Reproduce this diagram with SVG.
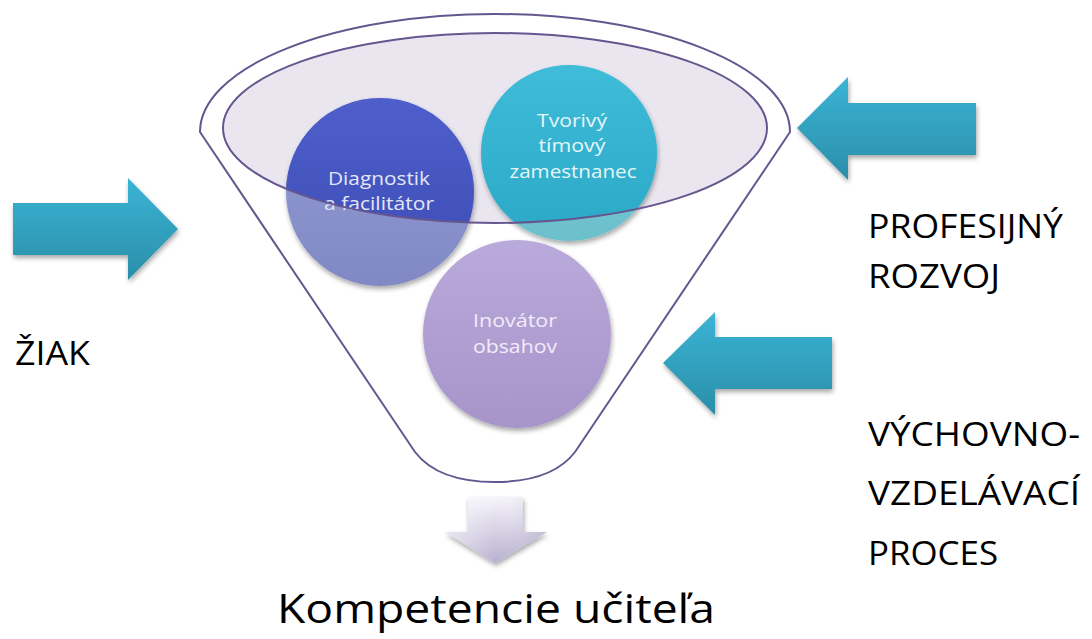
<svg xmlns="http://www.w3.org/2000/svg" width="1092" height="639" viewBox="0 0 1092 639">
<style>
.lbl{font-family:"Open Sans","Liberation Sans",sans-serif;fill:#000;font-size:32px}
.ct{font-family:"Open Sans","Liberation Sans",sans-serif;font-size:18px;text-anchor:middle}
.funnel{fill:#ffffff;stroke:#65568f;stroke-width:2}
.rim{fill:#e9e6f0;stroke:none}
.rimline{fill:none;stroke:#65568f;stroke-width:2}
</style>
<defs>
<linearGradient id="gBlue" x1="0" y1="0" x2="0" y2="1">
<stop offset="0" stop-color="#3bb4d5"/><stop offset="1" stop-color="#2a8ea9"/>
</linearGradient>
<linearGradient id="gDiag" x1="0" y1="0" x2="0" y2="1">
<stop offset="0" stop-color="#4e5ecb"/><stop offset="1" stop-color="#3c4cb4"/>
</linearGradient>
<linearGradient id="gDiagL" x1="0" y1="0" x2="0" y2="1">
<stop offset="0" stop-color="#949dd4"/><stop offset="1" stop-color="#8189c5"/>
</linearGradient>
<linearGradient id="gTvor" x1="0" y1="0" x2="0" y2="1">
<stop offset="0" stop-color="#3fbcd8"/><stop offset="1" stop-color="#2aa8c6"/>
</linearGradient>
<linearGradient id="gTvorL" x1="0" y1="0" x2="0" y2="1">
<stop offset="0" stop-color="#7cccd6"/><stop offset="1" stop-color="#6cc0cc"/>
</linearGradient>
<linearGradient id="gIno" x1="0" y1="0" x2="0" y2="1">
<stop offset="0" stop-color="#baa9db"/><stop offset="1" stop-color="#a794c9"/>
</linearGradient>
<linearGradient id="gDown" x1="0" y1="0" x2="0" y2="1">
<stop offset="0" stop-color="#f6f4fa"/><stop offset="1" stop-color="#b7afcf"/>
</linearGradient>
<linearGradient id="gDownSide" x1="0" y1="0" x2="1" y2="0">
<stop offset="0" stop-color="#ffffff" stop-opacity="0.5"/><stop offset="0.5" stop-color="#ffffff" stop-opacity="0"/><stop offset="1" stop-color="#8a80a8" stop-opacity="0.25"/>
</linearGradient>
<clipPath id="rimClip"><ellipse cx="495" cy="128" rx="272" ry="95"/></clipPath>
<filter id="sh" x="-20%" y="-20%" width="140%" height="140%">
<feGaussianBlur in="SourceAlpha" stdDeviation="2.5"/>
<feOffset dx="1" dy="3" result="b"/>
<feComponentTransfer><feFuncA type="linear" slope="0.35"/></feComponentTransfer>
<feMerge><feMergeNode/><feMergeNode in="SourceGraphic"/></feMerge>
</filter>
</defs>

<g id="funnel">
<path class="funnel" d="M200,132 A295,118 0 0 1 790,132 L575,452 Q552,482 495,482 Q438,482 415,452 Z"/>
<ellipse class="rim" cx="495" cy="128" rx="272" ry="95"/>
</g>

<g id="node-diagnostik">
<circle cx="380" cy="192" r="94" fill="url(#gDiagL)" filter="url(#sh)"/>
<circle cx="380" cy="192" r="94" fill="url(#gDiag)" clip-path="url(#rimClip)"/>
<text class="ct" fill="#e4e6f6" x="379" y="185" textLength="102" lengthAdjust="spacingAndGlyphs">Diagnostik</text>
<text class="ct" fill="#e4e6f6" x="379" y="210" textLength="110" lengthAdjust="spacingAndGlyphs">a facilitátor</text>
</g>

<g id="node-tvorivy">
<circle cx="569" cy="153" r="88" fill="url(#gTvorL)" filter="url(#sh)"/>
<circle cx="569" cy="153" r="88" fill="url(#gTvor)" clip-path="url(#rimClip)"/>
<text class="ct" fill="#e6f6f9" x="572" y="127" textLength="70" lengthAdjust="spacingAndGlyphs">Tvorivý</text>
<text class="ct" fill="#e6f6f9" x="572" y="152" textLength="67" lengthAdjust="spacingAndGlyphs">tímový</text>
<text class="ct" fill="#e6f6f9" x="573" y="178" textLength="127" lengthAdjust="spacingAndGlyphs">zamestnanec</text>
</g>

<g id="rim-outline">
<ellipse class="rimline" cx="495" cy="128" rx="272" ry="95"/>
</g>

<g id="node-inovator">
<circle cx="517" cy="334" r="94" fill="url(#gIno)" filter="url(#sh)"/>
<text class="ct" fill="#f1ecf8" x="515" y="327" textLength="84" lengthAdjust="spacingAndGlyphs">Inovátor</text>
<text class="ct" fill="#f1ecf8" x="515" y="353" textLength="84" lengthAdjust="spacingAndGlyphs">obsahov</text>
</g>

<g id="connectors">
<path d="M13,203 H128 V178 L178,229 L128,280 V255 H13 Z" fill="url(#gBlue)" filter="url(#sh)"/>
<path d="M976,103 H848 V77 L797,128 L848,180 V155 H976 Z" fill="url(#gBlue)" filter="url(#sh)"/>
<path d="M832,337 H715 V312 L663,363 L715,415 V389 H832 Z" fill="url(#gBlue)" filter="url(#sh)"/>
<g id="down-arrow" filter="url(#sh)">
<path d="M468,497 H523 V532 H547 L495,563 L445,532 H468 Z" fill="url(#gDown)"/>
<path d="M468,497 H523 V532 H547 L495,563 L445,532 H468 Z" fill="url(#gDownSide)"/>
</g>
</g>

<g id="labels">
<text class="lbl" x="868" y="238" textLength="195" lengthAdjust="spacingAndGlyphs">PROFESIJNÝ</text>
<text class="lbl" x="868" y="288" textLength="132" lengthAdjust="spacingAndGlyphs">ROZVOJ</text>
<text class="lbl" x="15" y="365" textLength="75" lengthAdjust="spacingAndGlyphs">ŽIAK</text>
<text class="lbl" x="868" y="446" textLength="212" lengthAdjust="spacingAndGlyphs">VÝCHOVNO-</text>
<text class="lbl" x="868" y="505" textLength="212" lengthAdjust="spacingAndGlyphs">VZDELÁVACÍ</text>
<text class="lbl" x="868" y="565" textLength="130" lengthAdjust="spacingAndGlyphs">PROCES</text>
<text class="lbl" x="277" y="623" style="font-size:40px" textLength="438" lengthAdjust="spacingAndGlyphs">Kompetencie učiteľa</text>
</g>
</svg>
